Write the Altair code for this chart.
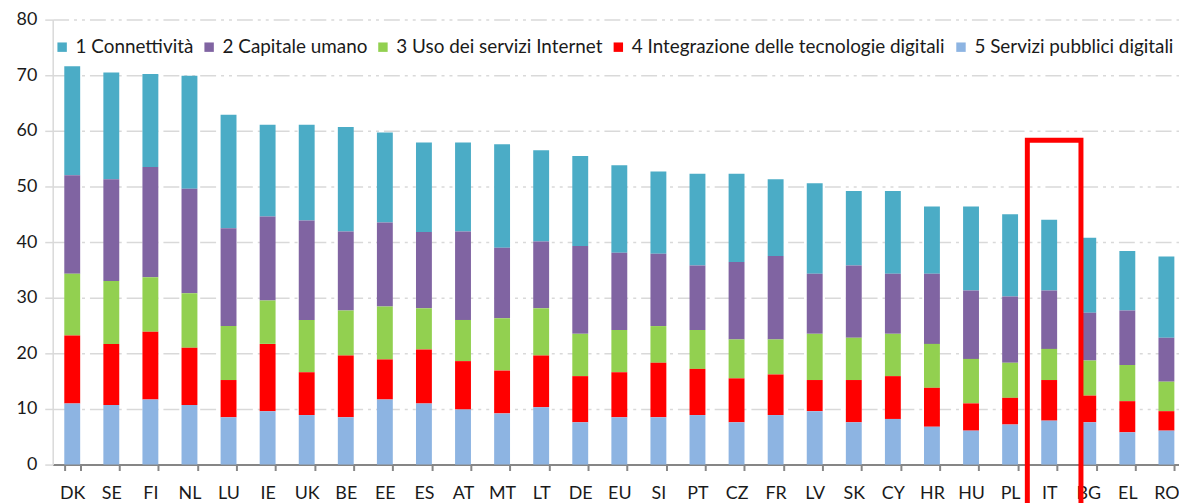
import altair as alt
import pandas as pd

countries = ["DK", "SE", "FI", "NL", "LU", "IE", "UK", "BE", "EE", "ES", "AT", "MT", "LT", "DE", "EU",
             "SI", "PT", "CZ", "FR", "LV", "SK", "CY", "HR", "HU", "PL", "IT", "BG", "EL", "RO"]

series_names = ["1 Connettività", "2 Capitale umano", "3 Uso dei servizi Internet",
                "4 Integrazione delle tecnologie digitali", "5 Servizi pubblici digitali"]
series_colors = ["#4BACC6", "#8064A2", "#92D050", "#FF0000", "#8DB4E2"]

connettivita = [19.6, 19.2, 16.7, 20.3, 20.4, 16.5, 17.2, 18.8, 16.2, 16.1, 16.0, 18.6, 16.4, 16.2, 15.7,
                14.8, 16.5, 15.9, 13.8, 16.3, 13.4, 14.9, 12.1, 15.1, 14.8, 12.7, 13.5, 10.7, 14.6]
capitale_umano = [17.7, 18.3, 19.8, 18.8, 17.6, 15.1, 17.9, 14.2, 15.1, 13.7, 15.9, 12.7, 12.0, 15.8, 13.9,
                  13.0, 11.6, 13.9, 15.0, 10.8, 13.0, 10.8, 12.6, 12.3, 11.9, 10.5, 8.6, 9.8, 7.9]
uso_internet = [11.1, 11.3, 9.8, 9.8, 9.7, 7.8, 9.4, 8.1, 9.5, 7.4, 7.4, 9.4, 8.5, 7.6, 7.6,
                6.6, 7.0, 7.0, 6.3, 8.3, 7.6, 7.6, 7.9, 8.0, 6.3, 5.6, 6.3, 6.5, 5.3]
integrazione = [12.2, 11.0, 12.2, 10.3, 6.7, 12.1, 7.7, 11.1, 7.2, 9.7, 8.7, 7.7, 9.3, 8.3, 8.1,
                9.8, 8.3, 7.9, 7.3, 5.6, 7.6, 7.7, 7.0, 4.9, 4.8, 7.3, 4.8, 5.6, 3.5]
servizi_pubblici = [11.0, 10.7, 11.7, 10.7, 8.5, 9.6, 8.9, 8.5, 11.7, 11.0, 9.9, 9.2, 10.3, 7.6, 8.5,
                    8.5, 8.9, 7.6, 8.9, 9.6, 7.6, 8.2, 6.8, 6.1, 7.2, 7.9, 7.6, 5.8, 6.1]

y_ticks = [0, 10, 20, 30, 40, 50, 60, 70, 80]

highlight_country = ["IT"]
highlight_top = [58.3]
highlight_bottom = [-12]

series_values = [connettivita, capitale_umano, uso_internet, integrazione, servizi_pubblici]
rows = []
for s_idx, (name, vals) in enumerate(zip(series_names, series_values)):
    for c, v in zip(countries, vals):
        rows.append({"paese": c, "dimensione": name, "valore": v, "ordine": s_idx})
df = pd.DataFrame(rows)

hl = pd.DataFrame({"paese": highlight_country, "top": highlight_top, "bottom": highlight_bottom})

FONT = "Lato"

x_scale = alt.Scale(paddingInner=0.6, paddingOuter=0.3, range=[0, 1141])

x_enc = alt.X("paese:N", sort=countries, title=None, scale=x_scale,
              axis=alt.Axis(labelAngle=0, labelFont=FONT, labelFontSize=18, labelColor="#1a1a1a",
                            labelPadding=14, tickSize=6, tickColor="#868686", tickWidth=2,
                            tickBand="extent", domainColor="#868686", domainWidth=2, grid=False))

bars = alt.Chart(df).mark_bar(size=16).encode(
    x=x_enc,
    y=alt.Y("valore:Q", stack="zero", title=None,
            scale=alt.Scale(domain=[0, 80], nice=False),
            axis=alt.Axis(values=y_ticks, labelFont=FONT, labelFontSize=18, labelColor="#1a1a1a",
                          labelPadding=8, tickSize=8, tickColor="#D9D9D9", tickWidth=1.5,
                          domainColor="#D9D9D9", domainWidth=1.5,
                          grid=True, gridColor="#D9D9D9", gridWidth=1.5,
                          gridDash=[16, 5, 3, 5, 3, 5])),
    color=alt.Color("dimensione:N", sort=series_names,
                    scale=alt.Scale(domain=series_names, range=series_colors),
                    legend=alt.Legend(orient="none", direction="horizontal", legendX=0, legendY=18,
                                      title=None, symbolType="square", symbolSize=90,
                                      symbolStrokeWidth=0, labelFont=FONT, labelFontSize=19,
                                      labelColor="#1a1a1a", labelOffset=4, columnPadding=6,
                                      labelLimit=500, padding=0)),
    order=alt.Order("ordine:Q", sort="descending"),
)

box = alt.Chart(hl).mark_bar(size=54, filled=False, stroke="#FF0000", strokeWidth=5,
                             xOffset=5, clip=False).encode(
    x=alt.X("paese:N", sort=countries, scale=x_scale),
    y=alt.Y("top:Q"),
    y2="bottom:Q",
)

chart = alt.layer(bars, box).properties(
    width=1134, height=448,
    autosize=alt.AutoSizeParams(type="none"),
    padding={"left": 45, "top": 10, "right": 0, "bottom": 37},
).configure_view(stroke=None)

chart.save("out.html", embed_options={"renderer": "svg", "actions": False})
